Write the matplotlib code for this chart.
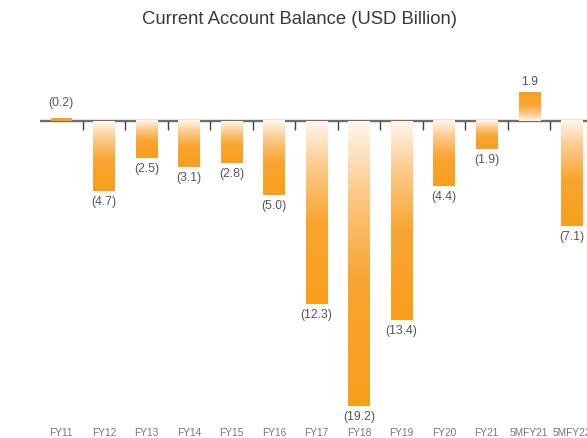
import numpy as np
import matplotlib
matplotlib.use("Agg")
import matplotlib.pyplot as plt
from matplotlib.colors import LinearSegmentedColormap
import matplotlib.transforms as mtransforms

categories = ["FY11", "FY12", "FY13", "FY14", "FY15", "FY16", "FY17", "FY18",
              "FY19", "FY20", "FY21", "5MFY21", "5MFY22"]
values = [0.2, -4.7, -2.5, -3.1, -2.8, -5.0, -12.3, -19.2, -13.4, -4.4, -1.9, 1.9, -7.1]
value_labels = ["(0.2)", "(4.7)", "(2.5)", "(3.1)", "(2.8)", "(5.0)", "(12.3)", "(19.2)",
                "(13.4)", "(4.4)", "(1.9)", "1.9", "(7.1)"]

plt.rcParams['font.family'] = ['Liberation Sans', 'DejaVu Sans']

W, H = 587, 438
fig = plt.figure(figsize=(W / 100, H / 100), dpi=100)

x_left_px, x_right_px = 40, 593
y_top_px, y_bot_px = 60, 420
ax = fig.add_axes([x_left_px / W, 1 - y_bot_px / H,
                   (x_right_px - x_left_px) / W, (y_bot_px - y_top_px) / H])
zero_px = 121
ppu = 14.84
ylim = (-(y_bot_px - zero_px) / ppu, (zero_px - y_top_px) / ppu)
ax.axis('off')

orange = "#f89f1c"
cmap = LinearSegmentedColormap.from_list(
    "grad", [(0.0, "#fff7ec"), (0.25, "#fcca8a"), (0.55, "#f9a532"), (1.0, orange)])
grad = np.linspace(0, 1, 256).reshape(-1, 1)

bw = 0.5
for i, v in enumerate(values):
    if i == 0:
        ax.bar(i, v, width=bw, color=orange, zorder=3)
        continue
    if v < 0:
        ax.imshow(grad, cmap=cmap, aspect='auto', origin='upper',
                  extent=(i - bw / 2, i + bw / 2, v, 0), zorder=3,
                  interpolation='bilinear')
    else:
        ax.imshow(grad, cmap=cmap, aspect='auto', origin='lower',
                  extent=(i - bw / 2, i + bw / 2, 0, v), zorder=3,
                  interpolation='bilinear')

ax.set_xlim(-0.5, len(categories) - 0.5)
ax.set_ylim(*ylim)

ax.axhline(0, color="#6e6e6e", lw=1.7, zorder=2)
tick_len = 9 / ppu
for b in np.arange(0.5, len(categories) - 0.5, 1.0):
    ax.plot([b, b], [0, -tick_len], color="#444444", lw=1.0, zorder=2,
            solid_capstyle='butt')

for i, (v, lab) in enumerate(zip(values, value_labels)):
    off = 8
    if i == 0:
        off = 11
    if v >= 0:
        ax.annotate(lab, (i, v), xytext=(0, off), textcoords='offset points',
                    ha='center', va='center', fontsize=8.8, color="#555555")
    else:
        ax.annotate(lab, (i, v), xytext=(0, -off), textcoords='offset points',
                    ha='center', va='center', fontsize=8.8, color="#555555")

trans = mtransforms.blended_transform_factory(ax.transData, fig.transFigure)
for i, c in enumerate(categories):
    ax.text(i, 1 - 433 / H, c, transform=trans, ha='center', va='center',
            fontsize=7.3, color="#777777", clip_on=False)

fig.text(300 / W, 1 - 20 / H, "Current Account Balance (USD Billion)",
         ha='center', va='center', fontsize=13.3, color="#3a3a3a")

fig.savefig("out.png", dpi=100)
